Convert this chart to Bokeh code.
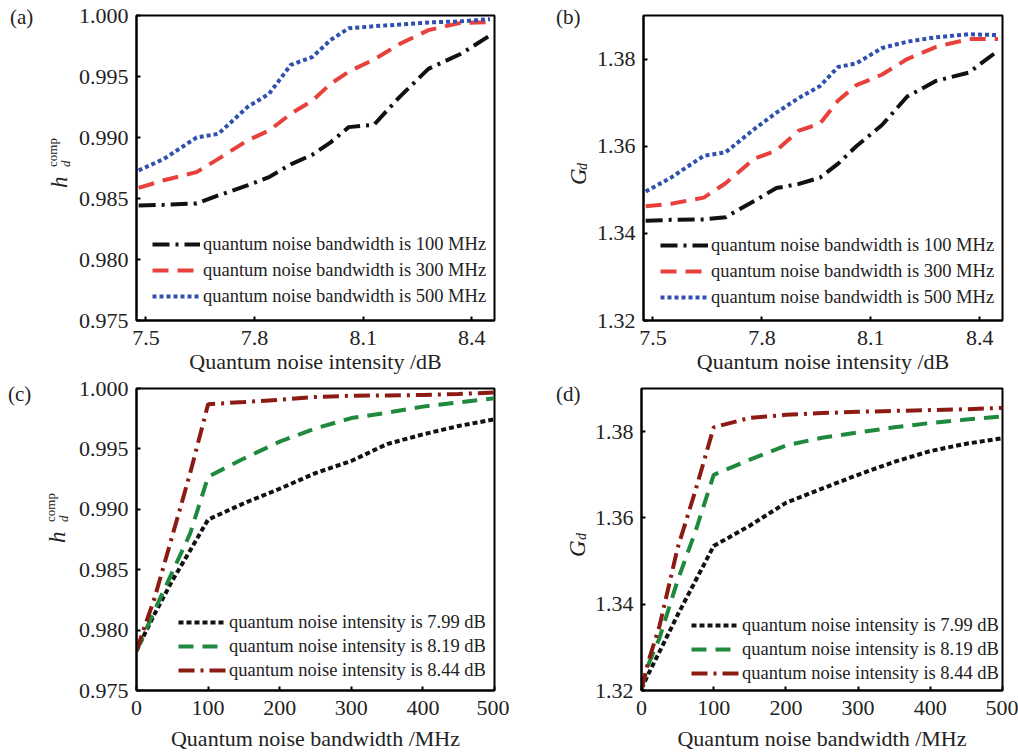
import math
from bokeh.plotting import figure
from bokeh.layouts import column, row
from bokeh.models import Legend, LegendItem, Div, FixedTicker, PrintfTickFormatter, Range1d
from bokeh.embed import file_html
from bokeh.resources import INLINE

# ---------------- data ----------------
intensity = [7.48, 7.55, 7.64, 7.70, 7.78, 7.84, 7.90, 7.96, 8.01, 8.06, 8.13, 8.20, 8.28, 8.37, 8.45]

a_bw100 = [0.98443, 0.98448, 0.98460, 0.98525, 0.98607, 0.98675, 0.98780, 0.98860, 0.98960,
           0.99085, 0.99105, 0.99331, 0.99563, 0.99686, 0.99836]
a_bw300 = [0.98587, 0.98650, 0.98716, 0.98825, 0.98975, 0.99057, 0.99194, 0.99303, 0.99440,
           0.99540, 0.99640, 0.99765, 0.99880, 0.99940, 0.99945]
a_bw500 = [0.98730, 0.98825, 0.99000, 0.99030, 0.99249, 0.99358, 0.99595, 0.99660, 0.99800,
           0.99895, 0.99912, 0.99926, 0.99943, 0.99952, 0.99970]

b_bw100 = [1.3429, 1.3431, 1.3432, 1.3437, 1.3475, 1.3504, 1.3513, 1.3528, 1.3560,
           1.3600, 1.3648, 1.3714, 1.3750, 1.3769, 1.3819]
b_bw300 = [1.3462, 1.3468, 1.3482, 1.3515, 1.3572, 1.3590, 1.3635, 1.3652, 1.3705,
           1.3740, 1.3764, 1.3800, 1.3828, 1.3846, 1.3846]
b_bw500 = [1.3496, 1.3528, 1.3578, 1.3586, 1.3640, 1.3677, 1.3710, 1.3738, 1.3782,
           1.3790, 1.3825, 1.3840, 1.3850, 1.3857, 1.3855]

bandwidth = [0, 10, 25, 50, 75, 100, 150, 200, 250, 300, 350, 400, 450, 500]

c_i799 = [0.97828, 0.97951, 0.98130, 0.98410, 0.98660, 0.98915, 0.99050, 0.99170, 0.99300,
          0.99400, 0.99540, 0.99620, 0.99690, 0.99745]
c_i819 = [0.97828, 0.97960, 0.98160, 0.98480, 0.98800, 0.99270, 0.99420, 0.99560, 0.99670,
          0.99755, 0.99800, 0.99850, 0.99885, 0.99920]
c_i844 = [0.97828, 0.98005, 0.98260, 0.98780, 0.99300, 0.99870, 0.99888, 0.99907, 0.99930,
          0.99940, 0.99943, 0.99946, 0.99955, 0.99967]

d_i799 = [1.3204, 1.3240, 1.3290, 1.3375, 1.3455, 1.3535, 1.3582, 1.3635, 1.3668,
          1.3700, 1.3730, 1.3755, 1.3772, 1.3785]
d_i819 = [1.3204, 1.3262, 1.3322, 1.3455, 1.3570, 1.3700, 1.3735, 1.3768, 1.3786,
          1.3798, 1.3810, 1.3820, 1.3828, 1.3835]
d_i844 = [1.3204, 1.3270, 1.3350, 1.3530, 1.3665, 1.3810, 1.3832, 1.3839, 1.3843,
          1.3846, 1.3848, 1.3850, 1.3852, 1.3855]

x_ticks_int = [7.5, 7.8, 8.1, 8.4]
x_ticks_bw = [0, 100, 200, 300, 400, 500]
y_ticks_h = [0.975, 0.980, 0.985, 0.990, 0.995, 1.000]
y_ticks_g = [1.32, 1.34, 1.36, 1.38]

bw_labels = ["quantum noise bandwidth is 100 MHz", "quantum noise bandwidth is 300 MHz",
             "quantum noise bandwidth is 500 MHz"]
int_labels = ["quantum noise intensity is 7.99 dB", "quantum noise intensity is 8.19 dB",
              "quantum noise intensity is 8.44 dB"]
panel_tags = ["(a)", "(b)", "(c)", "(d)"]

FONT = "Liberation Serif"
TXT = "#222222"


def make_fig(w, h, left, right, top, bottom, xr, yr):
    p = figure(width=w, height=h, output_backend="svg", toolbar_location=None,
               x_range=Range1d(*xr), y_range=Range1d(*yr),
               min_border_left=left, min_border_right=right,
               min_border_top=top, min_border_bottom=bottom)
    p.xgrid.visible = False
    p.ygrid.visible = False
    p.outline_line_color = "black"
    p.outline_line_width = 2
    p.background_fill_color = "white"
    p.border_fill_color = "white"
    for ax in (p.xaxis[0], p.yaxis[0]):
        ax.axis_line_width = 2
        ax.axis_line_color = "black"
        ax.major_tick_in = 4
        ax.major_tick_out = 0
        ax.major_tick_line_width = 2
        ax.minor_tick_in = 0
        ax.minor_tick_out = 0
        ax.major_label_text_font = FONT
        ax.major_label_text_font_size = "22px"
        ax.major_label_text_color = TXT
        ax.axis_label_text_font = FONT
        ax.axis_label_text_font_size = "22px"
        ax.axis_label_text_font_style = "normal"
        ax.axis_label_text_color = TXT
    p.yaxis[0].major_label_standoff = 8
    p.xaxis[0].major_label_standoff = 10
    p.xaxis[0].axis_label_standoff = 1
    return p


def add_legend(p, items, x, y, spacing):
    leg = Legend(items=items, location=(x, y), border_line_color=None,
                 background_fill_alpha=0, padding=0, margin=0, spacing=spacing,
                 glyph_width=48, glyph_height=22, label_height=22, label_standoff=3,
                 label_text_font=FONT, label_text_font_size="18.5px", label_text_color=TXT)
    p.add_layout(leg)


LW = 4
BLACK = "#111111"
RED = "#e8413c"
BLUE = "#3050b0"
GREEN = "#1f8a3e"
DRED = "#8c1c13"

# ---------------- (a) ----------------
pa = make_fig(509, 376, 136, 15, 15, 56, (7.474, 8.4625), (0.975, 1.000))
pa.xaxis[0].ticker = FixedTicker(ticks=x_ticks_int)
pa.yaxis[0].ticker = FixedTicker(ticks=y_ticks_h)
pa.yaxis[0].formatter = PrintfTickFormatter(format="%.3f")
pa.xaxis[0].axis_label = "Quantum noise intensity /dB"
ra1 = pa.line(intensity, a_bw100, line_color=BLACK, line_width=LW, line_dash="17 6 3 6")
ra2 = pa.line(intensity, a_bw300, line_color=RED, line_width=LW, line_dash="16 9")
ra3 = pa.line(intensity, a_bw500, line_color=BLUE, line_width=LW, line_dash="4 3")
add_legend(pa, [LegendItem(label=bw_labels[0], renderers=[ra1]),
                LegendItem(label=bw_labels[1], renderers=[ra2]),
                LegendItem(label=bw_labels[2], renderers=[ra3])], 16, 13, 4)

# ---------------- (b) ----------------
pb = make_fig(509, 376, 134, 16, 15, 56, (7.474, 8.4625), (1.32, 1.39))
pb.xaxis[0].ticker = FixedTicker(ticks=x_ticks_int)
pb.yaxis[0].ticker = FixedTicker(ticks=y_ticks_g)
pb.yaxis[0].formatter = PrintfTickFormatter(format="%.2f")
pb.xaxis[0].axis_label = "Quantum noise intensity /dB"
rb1 = pb.line(intensity, b_bw100, line_color=BLACK, line_width=LW, line_dash="17 6 3 6")
rb2 = pb.line(intensity, b_bw300, line_color=RED, line_width=LW, line_dash="16 9")
rb3 = pb.line(intensity, b_bw500, line_color=BLUE, line_width=LW, line_dash="4 3")
add_legend(pb, [LegendItem(label=bw_labels[0], renderers=[rb1]),
                LegendItem(label=bw_labels[1], renderers=[rb2]),
                LegendItem(label=bw_labels[2], renderers=[rb3])], 17, 12, 4)

# ---------------- (c) ----------------
pc = make_fig(509, 377, 136, 15, 12, 61, (0, 500), (0.975, 1.000))
pc.xaxis[0].ticker = FixedTicker(ticks=x_ticks_bw)
pc.yaxis[0].ticker = FixedTicker(ticks=y_ticks_h)
pc.yaxis[0].formatter = PrintfTickFormatter(format="%.3f")
pc.xaxis[0].axis_label = "Quantum noise bandwidth /MHz"
pc.xaxis[0].axis_label_standoff = 8
rc1 = pc.line(bandwidth, c_i799, line_color=BLACK, line_width=LW, line_dash="5 3")
rc2 = pc.line(bandwidth, c_i819, line_color=GREEN, line_width=LW, line_dash="15 9")
rc3 = pc.line(bandwidth, c_i844, line_color=DRED, line_width=LW, line_dash="16 6 3 6")
add_legend(pc, [LegendItem(label=int_labels[0], renderers=[rc1]),
                LegendItem(label=int_labels[1], renderers=[rc2]),
                LegendItem(label=int_labels[2], renderers=[rc3])], 42, 9, 2)

# ---------------- (d) ----------------
pd_ = make_fig(509, 377, 132, 16, 9, 63, (0, 500), (1.32, 1.39))
pd_.xaxis[0].ticker = FixedTicker(ticks=x_ticks_bw)
pd_.yaxis[0].ticker = FixedTicker(ticks=y_ticks_g)
pd_.yaxis[0].formatter = PrintfTickFormatter(format="%.2f")
pd_.xaxis[0].axis_label = "Quantum noise bandwidth /MHz"
pd_.xaxis[0].axis_label_standoff = 8
rd1 = pd_.line(bandwidth, d_i799, line_color=BLACK, line_width=LW, line_dash="5 3")
rd2 = pd_.line(bandwidth, d_i819, line_color=GREEN, line_width=LW, line_dash="15 9")
rd3 = pd_.line(bandwidth, d_i844, line_color=DRED, line_width=LW, line_dash="16 6 3 6")
add_legend(pd_, [LegendItem(label=int_labels[0], renderers=[rd1]),
                 LegendItem(label=int_labels[1], renderers=[rd2]),
                 LegendItem(label=int_labels[2], renderers=[rd3])], 50, 6, 2)


# ---------- texts that sit outside the plot frames (panel tags, y-axis titles) ----------
def tag(text, left, top, size=21):
    return (f'<span style="position:absolute;left:{left}px;top:{top}px;font-size:{size}px;'
            f'line-height:1;white-space:nowrap;margin:0;padding:0">{text}</span>')


def vtext(text, left, top, size, italic):
    st = "italic" if italic else "normal"
    return (f'<span style="position:absolute;left:{left}px;top:{top}px;font-size:{size}px;'
            f'font-style:{st};line-height:1;white-space:nowrap;margin:0;padding:0;'
            f'transform:rotate(-90deg);transform-origin:0 0">{text}</span>')


parts = [
    tag(panel_tags[0], 10, 7.4), tag(panel_tags[1], 556, 7.4),
    tag(panel_tags[2], 8, 384.4), tag(panel_tags[3], 556, 384.4),
    vtext("h", 47.7, 188, 23, True), vtext("d", 59.1, 167, 13, True), vtext("comp", 46.1, 167, 13, False),
    vtext("G", 566.7, 185, 23, True), vtext("d", 576.3, 170, 14, True),
    vtext("h", 45.7, 543, 23, True), vtext("d", 57.1, 522, 13, True), vtext("comp", 44.1, 522, 13, False),
    vtext("G", 565.7, 557, 23, True), vtext("d", 575.3, 540, 14, True),
]
overlay_html = (f'<div style="position:absolute;left:0;top:0;width:1px;height:1px;margin:0;padding:0;'
                f'font-family:\'{FONT}\';color:{TXT}">' + "".join(parts) + '</div>')
overlay = Div(text=overlay_html, width=1, height=1, margin=0,
              styles={"position": "absolute", "left": "0px", "top": "0px", "margin": "0px",
                      "padding": "0px", "z-index": "10", "pointer-events": "none",
                      "overflow": "visible"})

layout = column(row(pa, pb), row(pc, pd_), overlay)

open("out.html", "w").write(file_html(layout, INLINE))
